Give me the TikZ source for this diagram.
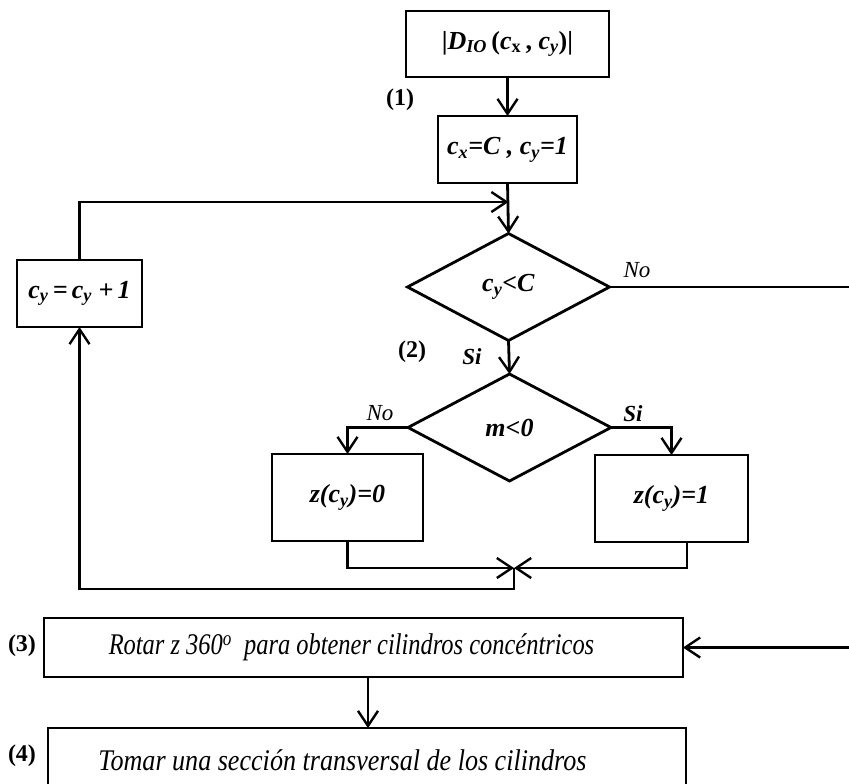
\documentclass[tikz,border=0pt]{standalone}
\usepackage{fontspec}
\setmainfont{Liberation Serif}
\usetikzlibrary{arrows.meta,shapes.geometric}
\newcommand\lsub[1]{\textsubscript{#1}}
\newcommand\bi[1]{\textbf{\textit{#1}}}
\begin{document}
\begin{tikzpicture}[x=1pt,y=-1pt,
  line width=2.8pt,
  arr/.style={-{Straight Barb[length=15pt,width=20pt,line width=2.4pt]}},
  box/.style={draw,rectangle,inner sep=0pt,outer sep=0pt,font=\fontsize{26}{28}\selectfont},
  dia/.style={draw,diamond,inner sep=0pt,outer sep=0pt,font=\fontsize{26}{28}\selectfont},
  lab/.style={font=\fontsize{24}{26}\selectfont\bfseries,inner sep=0pt},
  yn/.style={font=\fontsize{23}{25}\selectfont\itshape,inner sep=0pt},
  ynb/.style={font=\fontsize{23}{25}\selectfont\bfseries\itshape,inner sep=0pt},
  big/.style={draw,rectangle,inner sep=0pt,outer sep=0pt,font=\fontsize{30}{32}\selectfont\itshape},
]
\useasboundingbox (0,0) rectangle (849,784);
\clip (0,0) rectangle (849,784);

% boxes
\node[box,minimum width=203pt,minimum height=66pt] (b1) at (507.5,44)
  {\textbf{|\textit{D}\lsub{\textit{IO}}\,(\textit{c}\lsub{x}\,, \textit{c}\lsub{\textit{y}})|}};
\node[box,minimum width=139pt,minimum height=67pt] (b2) at (507.5,149.5)
  {\bi{c\lsub{x}=C , c\lsub{y}=1}};
\node[dia,minimum width=202pt,minimum height=107pt] (d1) at (508.5,287)
  {\bi{c\lsub{y}<C}};
\node[dia,minimum width=203pt,minimum height=107pt] (d2) at (509.5,427.5)
  {\bi{m<0}};
\node[box,minimum width=125pt,minimum height=67pt] (cy) at (79.5,293.5)
  {\bi{c\lsub{y}\,=\,c\lsub{y} +\,1}};
\node[box,minimum width=151pt,minimum height=87pt] (z0) at (347.5,497.5)
  {\bi{z(c\lsub{y})=0}};
\node[box,minimum width=153pt,minimum height=87pt] (z1) at (671.5,498.5)
  {\bi{z(c\lsub{y})=1}};
\node[big,minimum width=639pt,minimum height=59pt] (b3) at (363.5,647.5)
  {\hspace*{-24pt}\scalebox{0.815}[1]{Rotar z 360\textsuperscript{o}\ \ para obtener cilindros concéntricos}};
\node[big,minimum width=638pt,minimum height=64pt] (b4) at (367,760)
  {\hspace*{-49pt}\scalebox{0.87}[1]{Tomar una sección transversal de los cilindros}};

% labels
\node[lab] (l1) at (400,100) {(1)};
\node[lab] (l2) at (412,352) {(2)};
\node[lab] (l3) at (22,646) {(3)};
\node[lab] (l4) at (22,756) {(4)};
\node[yn] (no1) at (637,270) {No};
\node[ynb] (si1) at (472,357) {Si};
\node[yn] (no2) at (380,413) {No};
\node[ynb] (si2) at (633,414) {Si};

% helper coordinates
\coordinate (j1) at (508.5,202);
\coordinate (j2) at (514,568);
\coordinate (j3) at (514,589);
\coordinate (re) at (856,287);
\coordinate (z1o) at (687,542);

% connectors
\draw[arr] (b1) -- (b2);
\draw[arr] (b2.south) -- (d1.north);
\draw[arr] (cy.north) |- (j1);
\draw (d1.east) -- (re);
\draw[arr] (re) |- (b3.east);
\draw[arr] (d1.south) -- (d2.north);
\draw[arr] (d2.west) -| (z0.north);
\draw[arr] (d2.east) -| (z1.north);
\draw[arr] (z0.south) |- (j2);
\draw[arr] (z1o) |- (j2);
\draw[arr] (j2) -- (j3) -| (cy.south);
\draw[arr] (b3.south -| 368,0) -- (b4.north -| 368,0);
\end{tikzpicture}
\end{document}
